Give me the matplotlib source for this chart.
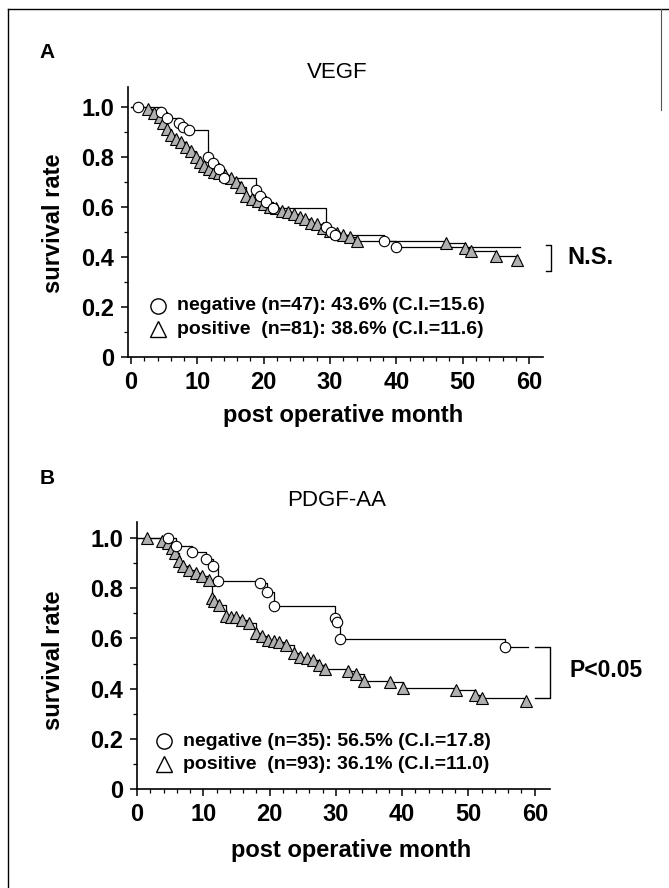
import matplotlib
matplotlib.use('Agg')
import matplotlib.pyplot as plt
from matplotlib.lines import Line2D

plt.rcParams['font.family'] = ['Liberation Sans', 'DejaVu Sans']

# ---------------- data ----------------
# panel A : VEGF
vegf_neg_t = [0, 1.0, 4.5, 5.5, 7.2, 7.9, 8.7, 11.6, 12.4, 13.2, 14.0, 18.8, 19.5,
              20.4, 21.4, 29.4, 30.2, 30.8, 38.1, 39.9]
vegf_neg_s = [1.0, 1.0, 0.979, 0.957, 0.936, 0.92, 0.908, 0.80, 0.776, 0.75, 0.716,
              0.668, 0.645, 0.62, 0.596, 0.52, 0.50, 0.488, 0.462, 0.44]
vegf_neg_end = 58.7

vegf_pos_t = [0, 2.5, 3.5, 4.3, 4.8, 5.5, 6.0, 6.8, 7.5, 8.3, 9.0, 9.8, 10.4, 11.0,
              11.7, 12.5, 13.3, 14.2, 15.0, 15.9, 16.6, 17.4, 18.3, 19.2, 20.1, 21.0,
              21.9, 22.8, 23.6, 24.5, 25.4, 26.3, 27.2, 28.0, 29.0, 30.0, 31.0, 32.0,
              33.0, 34.0, 47.5, 50.4, 51.3, 55.0, 58.2]
vegf_pos_s = [1.0, 0.99, 0.975, 0.96, 0.935, 0.91, 0.888, 0.87, 0.86, 0.84, 0.825,
              0.80, 0.78, 0.765, 0.75, 0.74, 0.735, 0.726, 0.715, 0.70, 0.68, 0.645,
              0.632, 0.625, 0.61, 0.60, 0.595, 0.585, 0.578, 0.57, 0.56, 0.55, 0.535,
              0.53, 0.515, 0.505, 0.495, 0.488, 0.478, 0.465, 0.457, 0.435, 0.422,
              0.404, 0.386]
vegf_pos_end = 58.7

# panel B : PDGF-AA
pdgf_neg_t = [0, 4.7, 5.9, 8.3, 10.4, 11.4, 12.2, 18.6, 19.6, 20.6, 29.8, 30.2,
              30.6, 55.5]
pdgf_neg_s = [1.0, 1.0, 0.97, 0.943, 0.915, 0.887, 0.83, 0.82, 0.787, 0.729, 0.68,
              0.665, 0.597, 0.565]
pdgf_neg_end = 59.0

pdgf_pos_t = [0, 1.5, 3.7, 4.7, 5.3, 5.7, 6.3, 6.9, 7.9, 8.9, 9.8, 10.8, 11.3, 11.6,
              12.4, 13.4, 14.2, 15.0, 15.9, 16.9, 17.9, 18.8, 19.8, 20.6, 21.4, 22.5,
              23.7, 24.6, 25.6, 26.6, 27.5, 28.3, 31.9, 33.0, 34.3, 38.1, 40.1, 48.1,
              51.0, 52.0, 58.7]
pdgf_pos_s = [1.0, 1.0, 0.99, 0.98, 0.962, 0.94, 0.91, 0.888, 0.874, 0.86, 0.847,
              0.834, 0.76, 0.75, 0.734, 0.69, 0.686, 0.684, 0.675, 0.661, 0.62, 0.608,
              0.595, 0.59, 0.585, 0.575, 0.542, 0.528, 0.522, 0.515, 0.495, 0.478,
              0.469, 0.458, 0.432, 0.426, 0.402, 0.396, 0.376, 0.362, 0.352]
pdgf_pos_end = 59.0

vegf_labels = ['negative (n=47): 43.6% (C.I.=15.6)',
               'positive  (n=81): 38.6% (C.I.=11.6)']
pdgf_labels = ['negative (n=35): 56.5% (C.I.=17.8)',
               'positive  (n=93): 36.1% (C.I.=11.0)']

x_ticks = [0, 10, 20, 30, 40, 50, 60]
y_ticks = [0, 0.2, 0.4, 0.6, 0.8, 1.0]
y_ticklabels = ['0', '0.2', '0.4', '0.6', '0.8', '1.0']

W, H = 669, 888


def fx(px):
    return px / W


def fy(py):
    return 1 - py / H


def km_curve(ax, t, s, t_end, marker, ms, mfc):
    ax.step(t + [t_end], s + [s[-1]], where='post', color='black', lw=0.9,
            zorder=2)
    ax.plot(t[1:], s[1:], ls='none', marker=marker, ms=ms, mfc=mfc,
            mec='black', mew=0.8, zorder=3)


def style_axes(ax, xlim, ylim):
    ax.set_xlim(*xlim)
    ax.set_ylim(*ylim)
    for sp in ['top', 'right']:
        ax.spines[sp].set_visible(False)
    for sp in ['left', 'bottom']:
        ax.spines[sp].set_linewidth(1.2)
    ax.set_xticks(x_ticks)
    ax.set_xticks(range(0, 62, 2), minor=True)
    ax.set_yticks(y_ticks)
    ax.set_yticklabels(y_ticklabels)
    ax.set_yticks([0.1, 0.3, 0.5, 0.7, 0.9], minor=True)
    ax.tick_params(which='major', length=5, width=1.1, labelsize=17, pad=5)
    ax.tick_params(which='minor', length=3, width=0.9)
    for lab in ax.get_xticklabels() + ax.get_yticklabels():
        lab.set_fontweight('bold')


def legend_rows(ax, labels, x_mark, x_text, y1, y2):
    ax.plot([x_mark], [y1], marker='o', ms=11, mfc='white', mec='black', mew=1.0,
            ls='none', clip_on=False)
    ax.plot([x_mark], [y2], marker='^', ms=12, mfc='white', mec='black', mew=1.0,
            ls='none', clip_on=False)
    ax.text(x_text, y1, labels[0], fontsize=14, fontweight='bold', va='center')
    ax.text(x_text, y2, labels[1], fontsize=14, fontweight='bold', va='center')


def bracket(ax, x, x_tick, y_top, y_bot):
    ax.plot([x_tick, x, x, x_tick], [y_top, y_top, y_bot, y_bot], color='black',
            lw=1.0, clip_on=False)


fig = plt.figure(figsize=(W / 100, H / 100), dpi=100)

# ---------------- panel A ----------------
axA = fig.add_axes([fx(128), fy(357), fx(543 - 128), 270 / H])
km_curve(axA, vegf_pos_t, vegf_pos_s, vegf_pos_end, '^', 8, '#b0b0b0')
km_curve(axA, vegf_neg_t, vegf_neg_s, vegf_neg_end, 'o', 7.5, 'white')
style_axes(axA, (-0.45, 62.1), (0, 1.08))
legend_rows(axA, vegf_labels, 4.1, 7.0, 0.205, 0.11)
bracket(axA, 63.3, 62.6, 0.449, 0.344)
axA.text(65.8, 0.396, 'N.S.', fontsize=17, fontweight='bold', va='center',
         ha='left')

fig.text(fx(47), fy(53), 'A', fontsize=15, fontweight='bold', ha='center',
         va='center')
fig.text(fx(337), fy(72), 'VEGF', fontsize=16, ha='center', va='center')
fig.text(fx(343), fy(415), 'post operative month', fontsize=17,
         fontweight='bold', ha='center', va='center')
fig.text(fx(54), fy(223), 'survival rate', fontsize=17, fontweight='bold',
         rotation=90, ha='center', va='center')

# ---------------- panel B ----------------
axB = fig.add_axes([fx(137), fy(789), fx(550 - 137), 267 / H])
km_curve(axB, pdgf_pos_t, pdgf_pos_s, pdgf_pos_end, '^', 8, '#b0b0b0')
km_curve(axB, pdgf_neg_t, pdgf_neg_s, pdgf_neg_end, 'o', 7.5, 'white')
style_axes(axB, (0, 62.3), (0, 1.064))
legend_rows(axB, pdgf_labels, 4.1, 7.0, 0.19, 0.098)
bracket(axB, 62.3, 60.0, 0.566, 0.362)
axB.text(65.3, 0.474, 'P<0.05', fontsize=16.5, fontweight='bold', va='center',
         ha='left')

fig.text(fx(47), fy(478), 'B', fontsize=15, fontweight='bold', ha='center',
         va='center')
fig.text(fx(337), fy(500), 'PDGF-AA', fontsize=16, ha='center', va='center')
fig.text(fx(351), fy(850), 'post operative month', fontsize=17,
         fontweight='bold', ha='center', va='center')
fig.text(fx(54), fy(660), 'survival rate', fontsize=17, fontweight='bold',
         rotation=90, ha='center', va='center')

# frame around the figure
fig.add_artist(Line2D([fx(8), fx(8)], [0, fy(9)], color='black', lw=1.0,
                      transform=fig.transFigure))
fig.add_artist(Line2D([fx(8), 1], [fy(9), fy(9)], color='black', lw=1.0,
                      transform=fig.transFigure))
fig.add_artist(Line2D([fx(661), fx(661)], [fy(9), fy(110)], color='#555555',
                      lw=0.8, transform=fig.transFigure))

fig.savefig('out.png', dpi=100)
